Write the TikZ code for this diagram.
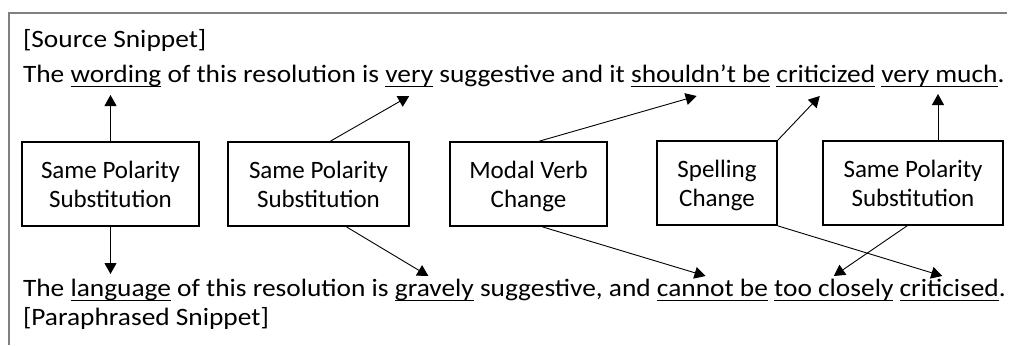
\documentclass[tikz,border=0pt]{standalone}
\usepackage{fontspec}
\setmainfont{Carlito}
\newfontfamily\widefont[FakeStretch=1.095]{Carlito}
\usetikzlibrary{arrows.meta,calc}
\newcommand\wsp{\hbox{\ }}
\begin{document}
\begin{tikzpicture}[x=1pt,y=-1pt,
  seg/.style={anchor=base west,inner sep=0pt,outer sep=0pt,font=\widefont\fontsize{25}{30}\selectfont},
  box/.style={draw,line width=1.8pt,minimum height=84pt,align=center,inner sep=0pt,
    text depth=0pt,font=\fontsize{25}{29}\selectfont},
  uline/.style={line width=1.4pt},
  link/.style={line width=0.9pt,-{Triangle[length=11pt,width=12pt]}},
  frame/.style={draw=black!50,line width=1.5pt}]
\useasboundingbox (0,0) rectangle (1016,345);
% open frame: top and left edges only
\draw[frame] (1007,13) -- (9,13) -- (9,345);

% source sentence
\node[seg] (srclabel) at (23,48) {[Source Snippet]};
\node[seg] (s0) at (23,82) {The\wsp};
\node[seg] (wording) at (s0.base east) {wording};
\node[seg] (s1) at (wording.base east) {\wsp of this resolution is\wsp};
\node[seg] (very) at (s1.base east) {very};
\node[seg] (s2) at (very.base east) {\wsp suggestive and it\wsp};
\node[seg] (shouldnt) at (s2.base east) {shouldn’t be};
\node[seg] (s3) at (shouldnt.base east) {\wsp};
\node[seg] (criticized) at (s3.base east) {criticized};
\node[seg] (s4) at (criticized.base east) {\wsp};
\node[seg] (verymuch) at (s4.base east) {very much};
\node[seg] (s5) at (verymuch.base east) {.};

% paraphrased sentence
\node[seg] (p0) at (23,296) {The\wsp};
\node[seg] (language) at (p0.base east) {language};
\node[seg] (p1) at (language.base east) {\wsp of this resolution is\wsp};
\node[seg] (gravely) at (p1.base east) {gravely};
\node[seg] (p2) at (gravely.base east) {\wsp suggestive, and\wsp};
\node[seg] (cannot) at (p2.base east) {cannot be};
\node[seg] (p3) at (cannot.base east) {\wsp};
\node[seg] (closely) at (p3.base east) {too closely};
\node[seg] (p4) at (closely.base east) {\wsp};
\node[seg] (criticised) at (p4.base east) {criticised};
\node[seg] (p5) at (criticised.base east) {.};
\node[seg] (parlabel) at (23,325) {[Paraphrased Snippet]};

\foreach \w in {wording,very,shouldnt,criticized,verymuch,language,gravely,cannot,closely,criticised}
  \draw[uline] ($(\w.base west)+(0,4.5)$) -- ($(\w.base east)+(0,4.5)$);

% edit-type boxes
\node[box,minimum width=177pt] (b1) at (110.5,184) {Same Polarity\\Substitution};
\node[box,minimum width=181pt] (b2) at (318.5,184) {Same Polarity\\Substitution};
\node[box,minimum width=157pt] (b3) at (528.5,184) {Modal Verb\\Change};
\node[box,minimum width=120pt] (b4) at (717,183) {Spelling\\Change};
\node[box,minimum width=180pt] (b5) at (913,183) {Same Polarity\\Substitution};
\coordinate (b5top) at ([xshift=25pt]b5.north);

% links to the source words
\draw[link] (b1.north) -- ($(b1.north |- wording.base)+(0,13)$);
\draw[link] ([xshift=12pt]b2.north) -- ($(very.base)+(0,14)$);
\draw[link] ([xshift=11pt]b3.north) -- ($(shouldnt.base)+(-4,14)$);
\draw[link] (b4.north east) -- ($(criticized.base)+(-6,14)$);
\draw[link] (b5top) -- ($(b5top |- verymuch.base)+(0,12)$);

% links to the paraphrased words
\draw[link] (b1.south) -- ($(b1.south |- language.base)+(0,-22)$);
\draw[link] ([xshift=28pt]b2.south) -- ($(gravely.base)+(-6,-20)$);
\draw[link] ([xshift=14pt]b3.south) -- ($(cannot.base)+(-7,-20)$);
\draw[link] (b4.south east) -- ($(criticised.base)+(-7,-20)$);
\draw[link] ([xshift=-6pt]b5.south) -- ($(closely.base)+(0,-20)$);
\end{tikzpicture}
\end{document}
